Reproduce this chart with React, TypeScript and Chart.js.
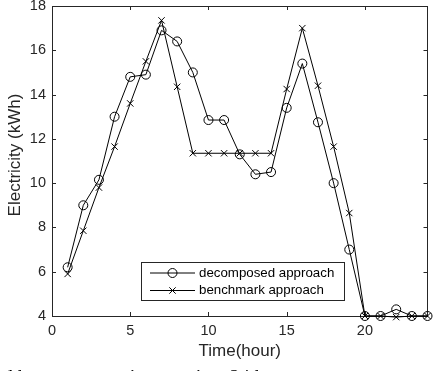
import React, { useEffect, useRef } from 'react';
import { Chart, registerables } from 'chart.js';

Chart.register(...registerables);

const hours = [1, 2, 3, 4, 5, 6, 7, 8, 9, 10, 11, 12, 13, 14, 15, 16, 17, 18, 19, 20, 21, 22, 23, 24];
const decomposed = [6.2, 9.0, 10.15, 13.0, 14.8, 14.9, 16.9, 16.4, 15.0, 12.85, 12.85, 11.3, 10.4, 10.5, 13.4, 15.4, 12.75, 10.0, 7.0, 4, 4, 4.3, 4, 4];
const benchmark = [5.9, 7.85, 9.8, 11.65, 13.6, 15.5, 17.35, 14.35, 11.35, 11.35, 11.35, 11.35, 11.35, 11.35, 14.25, 17.0, 14.4, 11.65, 8.65, 4, 4, 3.95, 4, 4];
const seriesLabels = ['decomposed approach', 'benchmark approach'];
const seriesMarkers = ['circle', 'crossRot'];
const xTicks = [0, 5, 10, 15, 20];
const yTicks = [4, 6, 8, 10, 12, 14, 16, 18];
const xRange = [0, 24];
const yRange = [4, 18];
const xTitle = 'Time(hour)';
const yTitle = 'Electricity (kWh)';
const caption = 'd bottom operations against 24 h';

const FONT = '"Liberation Sans", Arial, sans-serif';
const AXIS = '#262626';

function drawMarker(ctx: CanvasRenderingContext2D, style: string, x: number, y: number, r: number) {
  ctx.beginPath();
  if (style === 'circle') {
    ctx.arc(x, y, r, 0, Math.PI * 2);
  } else {
    const d = r * Math.SQRT1_2;
    ctx.moveTo(x - d, y - d);
    ctx.lineTo(x + d, y + d);
    ctx.moveTo(x + d, y - d);
    ctx.lineTo(x - d, y + d);
  }
  ctx.stroke();
}

const framePlugin = {
  id: 'matlabFrame',
  beforeDatasetsDraw(chart: any) {
    const { ctx, chartArea: a, scales } = chart;
    ctx.save();
    ctx.strokeStyle = AXIS;
    ctx.lineWidth = 1;
    ctx.strokeRect(Math.round(a.left) + 0.5, Math.round(a.top) + 0.5, Math.round(a.right - a.left) - 1, Math.round(a.bottom - a.top));
    const tl = 4;
    ctx.beginPath();
    for (const v of xTicks) {
      const px = Math.round(scales.x.getPixelForValue(v)) + 0.5;
      ctx.moveTo(px, a.bottom);
      ctx.lineTo(px, a.bottom - tl);
      ctx.moveTo(px, a.top);
      ctx.lineTo(px, a.top + tl);
    }
    for (const v of yTicks) {
      const py = Math.round(scales.y.getPixelForValue(v)) + 0.5;
      ctx.moveTo(a.left, py);
      ctx.lineTo(a.left + tl, py);
      ctx.moveTo(a.right, py);
      ctx.lineTo(a.right - tl, py);
    }
    ctx.stroke();
    ctx.restore();
  },
  afterDraw(chart: any) {
    const { ctx } = chart;
    // y-axis title
    ctx.save();
    ctx.fillStyle = AXIS;
    ctx.font = `17px ${FONT}`;
    ctx.translate(15.5, 155);
    ctx.rotate(-Math.PI / 2);
    ctx.textAlign = 'center';
    ctx.textBaseline = 'middle';
    ctx.fillText(yTitle, 0, 0);
    ctx.restore();

    // legend box
    const bx = 141, by = 262, bw = 203, bh = 38;
    ctx.save();
    ctx.fillStyle = '#ffffff';
    ctx.fillRect(bx, by, bw, bh);
    ctx.strokeStyle = AXIS;
    ctx.lineWidth = 1;
    ctx.strokeRect(bx + 0.5, by + 0.5, bw, bh);
    const rows = [273, 290.5];
    chart.data.datasets.forEach((ds: any, i: number) => {
      const y = rows[i];
      ctx.strokeStyle = '#000';
      ctx.lineWidth = 1;
      ctx.beginPath();
      ctx.moveTo(150, y);
      ctx.lineTo(195, y);
      ctx.stroke();
      drawMarker(ctx, seriesMarkers[i], 172.5, y, 4.5);
      ctx.fillStyle = '#000';
      ctx.font = `13.3px ${FONT}`;
      ctx.textAlign = 'left';
      ctx.textBaseline = 'middle';
      ctx.fillText(ds.label, 199, y);
    });
    ctx.restore();
  },
};

export default function App() {
  const canvasRef = useRef<HTMLCanvasElement | null>(null);

  useEffect(() => {
    document.body.style.margin = '0';
    const canvas = canvasRef.current;
    if (!canvas) return;
    const makeData = (vals: number[]) => hours.map((h, i) => ({ x: h, y: vals[i] }));
    const chart = new Chart(canvas, {
      type: 'line',
      data: {
        datasets: [decomposed, benchmark].map((vals, i) => ({
          label: seriesLabels[i],
          data: makeData(vals),
          borderColor: '#000',
          borderWidth: 1,
          pointStyle: seriesMarkers[i] as any,
          pointRadius: 4.5,
          pointBorderColor: '#000',
          pointBorderWidth: 1,
          pointBackgroundColor: 'rgba(0,0,0,0)',
          tension: 0,
          clip: false as any,
        })),
      },
      options: {
        animation: false,
        responsive: false,
        devicePixelRatio: 1,
        layout: { padding: { top: 6, right: 3, left: 0, bottom: 0 } },
        plugins: { legend: { display: false }, tooltip: { enabled: false } },
        events: [],
        scales: {
          x: {
            type: 'linear',
            min: xRange[0],
            max: xRange[1],
            afterBuildTicks: (s: any) => { s.ticks = xTicks.map((v) => ({ value: v })); },
            afterFit: (s: any) => { s.height = 55; s.paddingLeft = 0; s.paddingRight = 0; },
            grid: { display: false, drawTicks: false },
            border: { display: false },
            ticks: { color: AXIS, font: { family: FONT, size: 14.5 }, padding: 6, maxRotation: 0 },
            title: { display: true, text: xTitle, color: AXIS, font: { family: FONT, size: 17 }, padding: { top: 0, bottom: 9 } },
          },
          y: {
            type: 'linear',
            min: yRange[0],
            max: yRange[1],
            afterBuildTicks: (s: any) => { s.ticks = yTicks.map((v) => ({ value: v })); },
            afterFit: (s: any) => { s.width = 52; s.paddingTop = 0; s.paddingBottom = 0; },
            grid: { display: false, drawTicks: false },
            border: { display: false },
            ticks: { color: AXIS, font: { family: FONT, size: 14.5 }, padding: 6 },
          },
        },
      },
      plugins: [framePlugin],
    });
    return () => chart.destroy();
  }, []);

  return (
    <div style={{ position: 'fixed', left: 0, top: 0, width: 433, height: 371, overflow: 'hidden', background: '#fff' }}>
      <canvas ref={canvasRef} width={433} height={371} style={{ display: 'block', width: 433, height: 371 }} />
      <div
        style={{
          position: 'absolute',
          left: 3,
          top: 367,
          fontFamily: '"Liberation Serif", "Times New Roman", serif',
          fontSize: 20,
          lineHeight: '20px',
          whiteSpace: 'nowrap',
          color: '#000',
        }}
      >
        {caption}
      </div>
    </div>
  );
}
